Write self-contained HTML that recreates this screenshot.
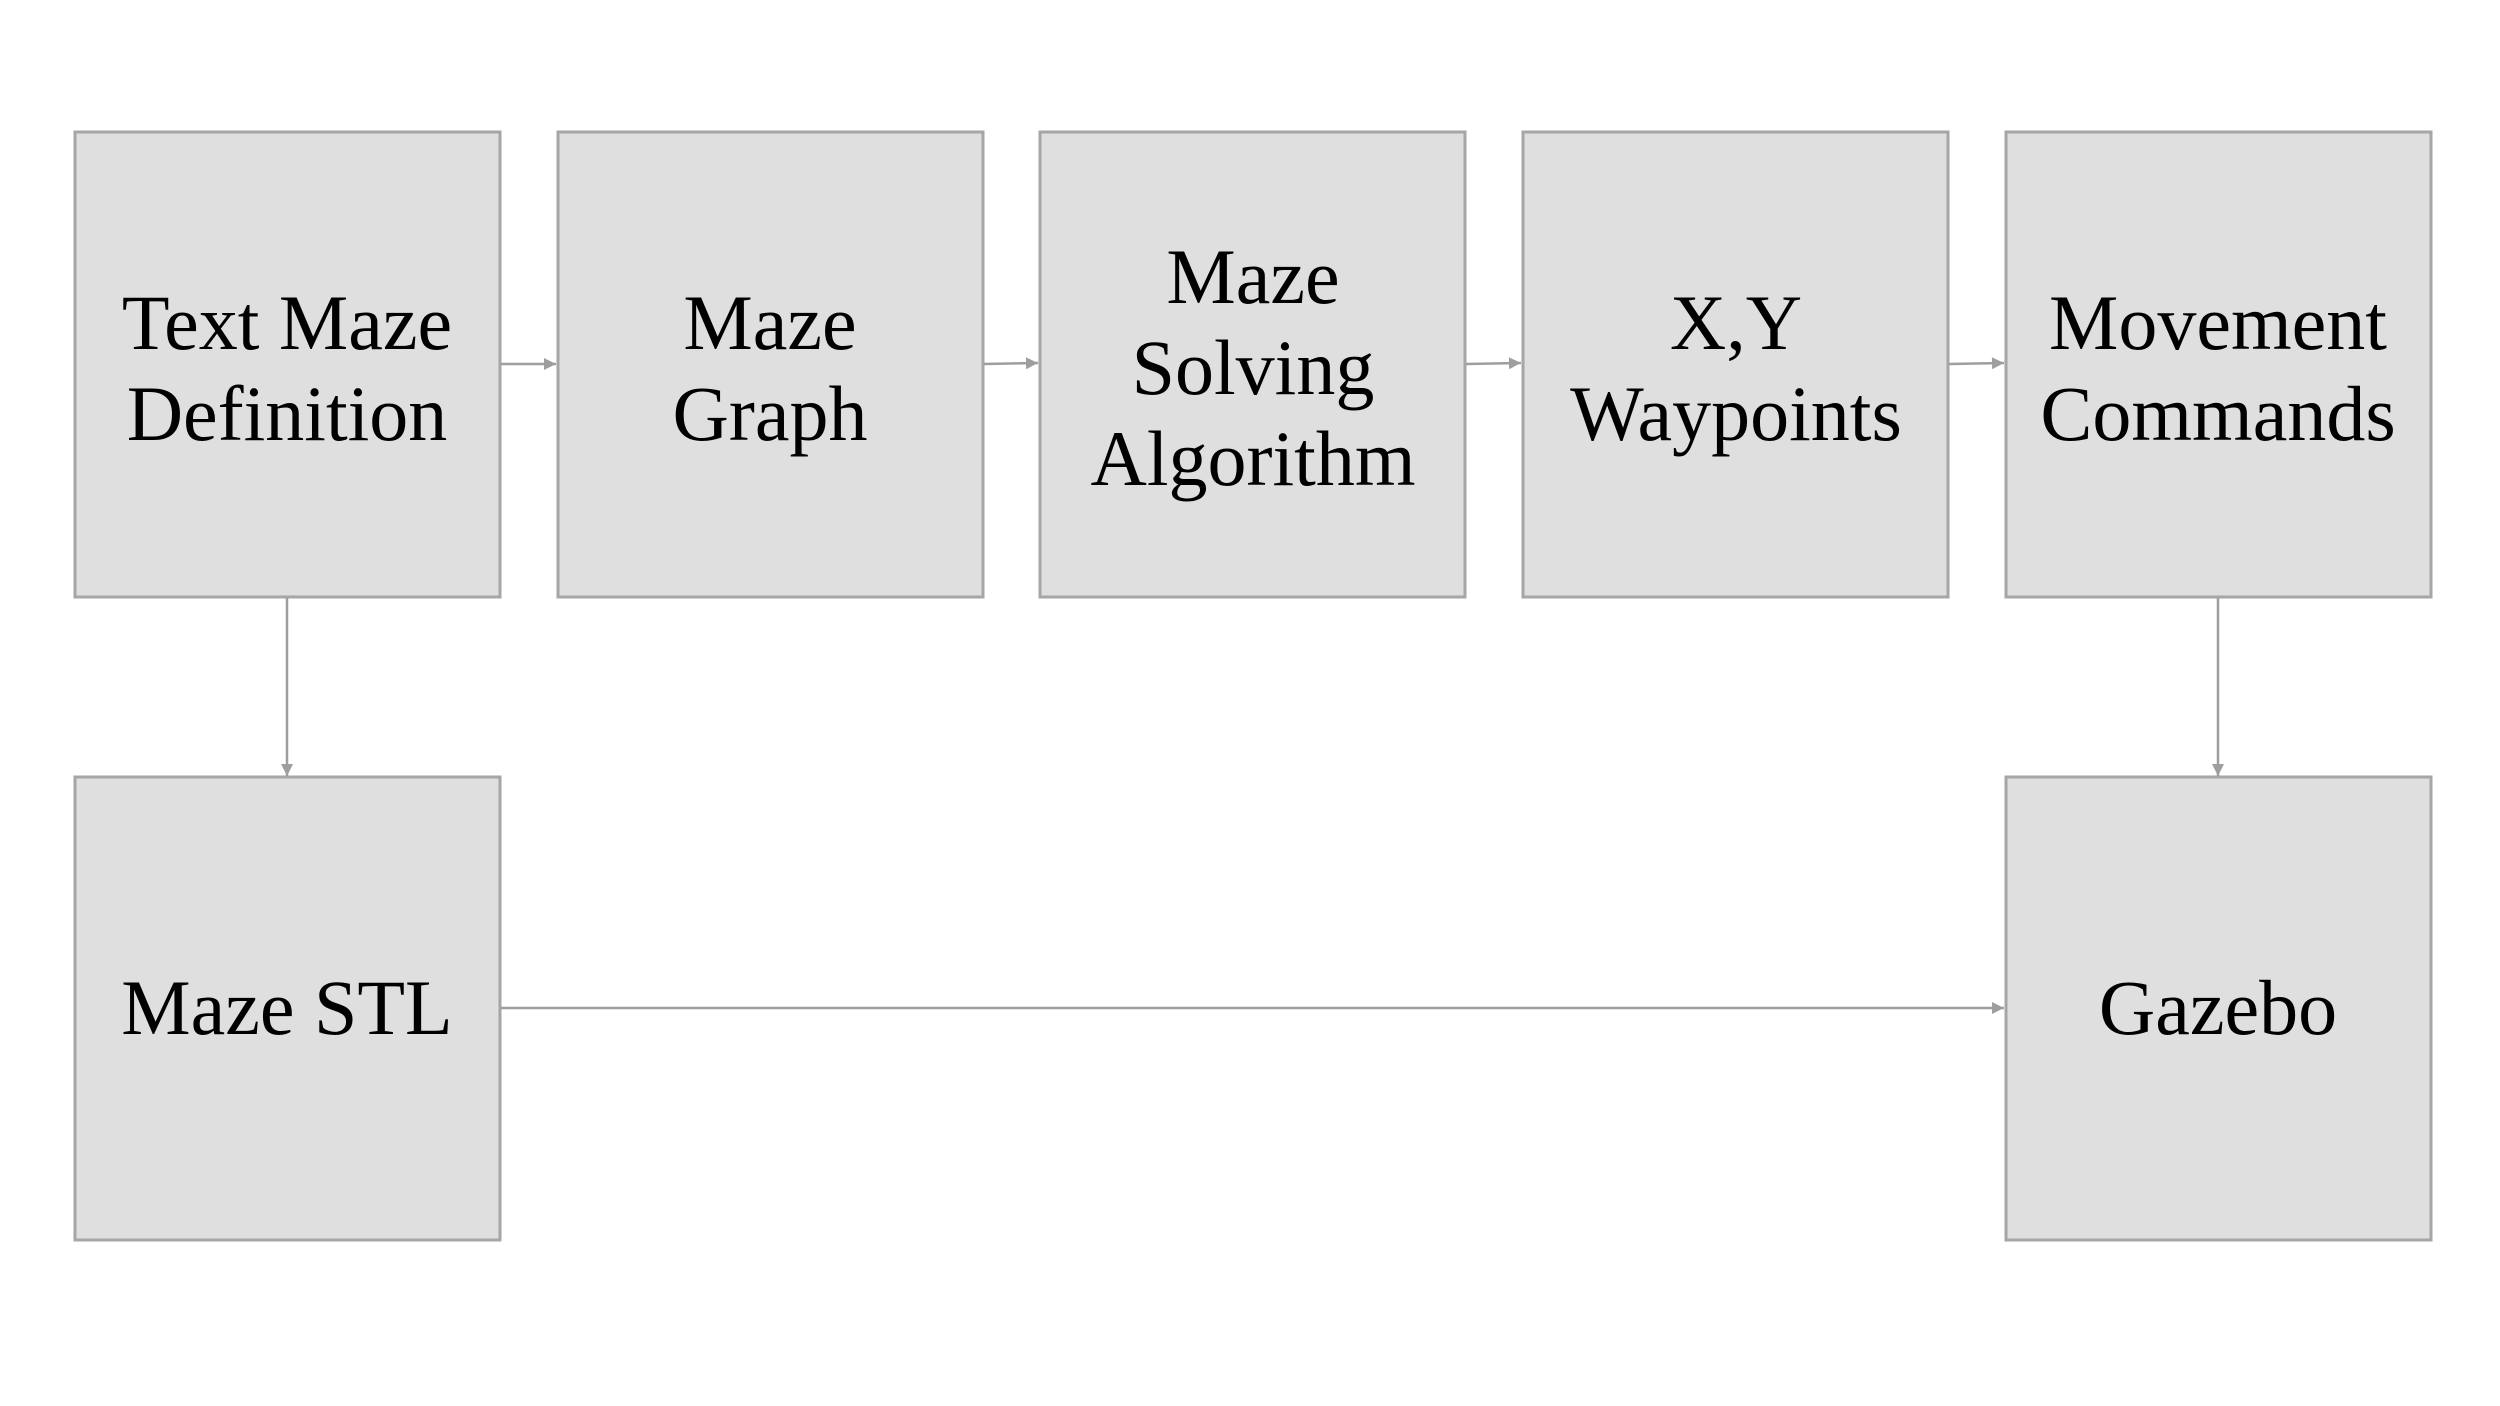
<!DOCTYPE html>
<html><head><meta charset="utf-8"><style>
html,body{margin:0;padding:0;background:#fff;}
svg{display:block;}
text{font-family:"Liberation Serif",serif;font-size:78px;fill:#000;text-anchor:middle;}
rect{fill:#dfdfdf;stroke:#a6a6a6;stroke-width:3;}
line{stroke:#9e9e9e;stroke-width:2.5;}
</style></head><body>
<svg width="2500" height="1406" viewBox="0 0 2500 1406" xmlns="http://www.w3.org/2000/svg">
<defs><marker id="a" viewBox="0 0 10 10" refX="10" refY="5" markerWidth="16" markerHeight="12" markerUnits="userSpaceOnUse" orient="auto"><path d="M0,0L10,5L0,10z" fill="#9e9e9e"/></marker></defs>
<rect x="75" y="132" width="425" height="465"/>
<rect x="558" y="132" width="425" height="465"/>
<rect x="1040" y="132" width="425" height="465"/>
<rect x="1523" y="132" width="425" height="465"/>
<rect x="2006" y="132" width="425" height="465"/>
<rect x="75" y="777" width="425" height="463"/>
<rect x="2006" y="777" width="425" height="463"/>
<line x1="501" y1="364" x2="556" y2="364" marker-end="url(#a)"/>
<line x1="984" y1="364" x2="1038" y2="363" marker-end="url(#a)"/>
<line x1="1466" y1="364" x2="1521" y2="363" marker-end="url(#a)"/>
<line x1="1949" y1="364" x2="2004" y2="363" marker-end="url(#a)"/>
<line x1="287" y1="598" x2="287" y2="776" marker-end="url(#a)"/>
<line x1="2218" y1="598" x2="2218" y2="776" marker-end="url(#a)"/>
<line x1="501" y1="1008" x2="2004" y2="1008" marker-end="url(#a)"/>
<text x="287" y="349">Text Maze</text><text x="287" y="440">Definition</text>
<text x="770" y="349">Maze</text><text x="770" y="440">Graph</text>
<text x="1253" y="303">Maze</text><text x="1253" y="394">Solving</text><text x="1253" y="485">Algorithm</text>
<text x="1736" y="349">X,Y</text><text x="1736" y="440">Waypoints</text>
<text x="2218" y="349">Movement</text><text x="2218" y="440">Commands</text>
<text x="287" y="1034">Maze STL</text>
<text x="2218" y="1034">Gazebo</text>
</svg>
</body></html>
